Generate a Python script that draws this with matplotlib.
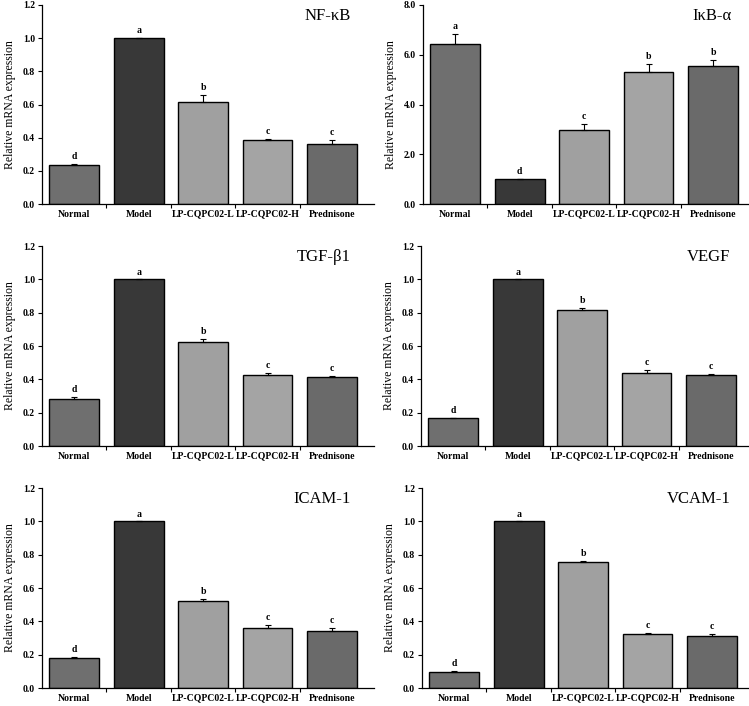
import matplotlib
matplotlib.use("Agg")
import matplotlib.pyplot as plt
import numpy as np

plt.rcParams['font.family'] = ['Liberation Serif', 'DejaVu Serif']

groups = ["Normal", "Model", "LP-CQPC02-L", "LP-CQPC02-H", "Prednisone"]
colors = ["#6f6f6f", "#383838", "#a0a0a0", "#a4a4a4", "#6a6a6a"]

genes = ["NF-κB", "IκB-α", "TGF-β1", "VEGF", "ICAM-1", "VCAM-1"]

nfkb = [0.235, 1.0, 0.617, 0.385, 0.362]
nfkb_err = [0.006, 0.0, 0.040, 0.008, 0.025]
nfkb_sig = ["d", "a", "b", "c", "c"]

ikba = [6.42, 1.0, 2.98, 5.32, 5.55]
ikba_err = [0.43, 0.0, 0.24, 0.32, 0.23]
ikba_sig = ["a", "d", "c", "b", "b"]

tgfb1 = [0.280, 1.0, 0.622, 0.424, 0.416]
tgfb1_err = [0.015, 0.0, 0.022, 0.014, 0.005]
tgfb1_sig = ["d", "a", "b", "c", "c"]

vegf = [0.168, 1.0, 0.814, 0.441, 0.427]
vegf_err = [0.003, 0.0, 0.015, 0.018, 0.008]
vegf_sig = ["d", "a", "b", "c", "c"]

icam1 = [0.178, 1.0, 0.522, 0.362, 0.344]
icam1_err = [0.007, 0.0, 0.012, 0.018, 0.016]
icam1_sig = ["d", "a", "b", "c", "c"]

vcam1 = [0.094, 1.0, 0.758, 0.324, 0.312]
vcam1_err = [0.008, 0.0, 0.005, 0.006, 0.012]
vcam1_sig = ["d", "a", "b", "c", "c"]

values = [nfkb, ikba, tgfb1, vegf, icam1, vcam1]
errors = [nfkb_err, ikba_err, tgfb1_err, vegf_err, icam1_err, vcam1_err]
letters = [nfkb_sig, ikba_sig, tgfb1_sig, vegf_sig, icam1_sig, vcam1_sig]
ymax = [1.2, 8.0, 1.2, 1.2, 1.2, 1.2]
ystep = [0.2, 2.0, 0.2, 0.2, 0.2, 0.2]

# axes boxes in pixels: left, top, bottom (figure 749 x 706)
W, H = 749, 706
boxes = [(42, 5, 204), (423, 5, 204),
         (42, 246, 446), (421, 246, 446),
         (42, 488, 688), (422, 488, 688)]

fig = plt.figure(figsize=(W / 100, H / 100), dpi=100)

x = np.arange(len(groups))
for i in range(6):
    l, t, b = boxes[i]
    ax = fig.add_axes([l / W, 1 - b / H, 332 / W, (b - t) / H])
    v = np.array(values[i])
    e = np.array(errors[i])
    ax.bar(x, v, width=0.77, color=colors, edgecolor="black", linewidth=1.0, zorder=2)
    ax.errorbar(x, v, yerr=[np.zeros_like(e), e], fmt="none", ecolor="black",
                elinewidth=0.8, capsize=2.5, capthick=0.8, zorder=3)
    for xi, vi, ei, s in zip(x, v, e, letters[i]):
        ax.annotate(s, (xi, vi + ei), xytext=(0, 2), textcoords="offset points",
                    ha="center", va="bottom", fontsize=7, fontweight="bold")
    ax.set_xlim(-0.5, 4.65)
    ax.set_ylim(0, ymax[i])
    ticks = np.arange(0, ymax[i] + ystep[i] / 2, ystep[i])
    ax.set_yticks(ticks)
    ax.set_yticklabels([f"{tk:.1f}" for tk in ticks], fontsize=7, fontweight="bold")
    ax.set_xticks(x)
    ax.set_xticklabels(groups, fontsize=7, fontweight="bold")
    ax.set_xticks(x[:-1] + 0.5, minor=True)
    ax.tick_params(axis="x", which="major", length=0, pad=4)
    ax.tick_params(axis="x", which="minor", length=3, direction="out", width=0.8)
    ax.tick_params(axis="y", length=3, direction="out", width=0.8, pad=2)
    ax.spines["top"].set_visible(False)
    ax.spines["right"].set_visible(False)
    ax.spines["left"].set_linewidth(0.9)
    ax.spines["bottom"].set_linewidth(0.9)
    ax.set_ylabel("Relative mRNA expression", fontsize=8.5, labelpad=5)
    ax.text(0.93, 0.985, genes[i], transform=ax.transAxes, ha="right", va="top",
            fontsize=12)

fig.savefig("out.png", dpi=100)
